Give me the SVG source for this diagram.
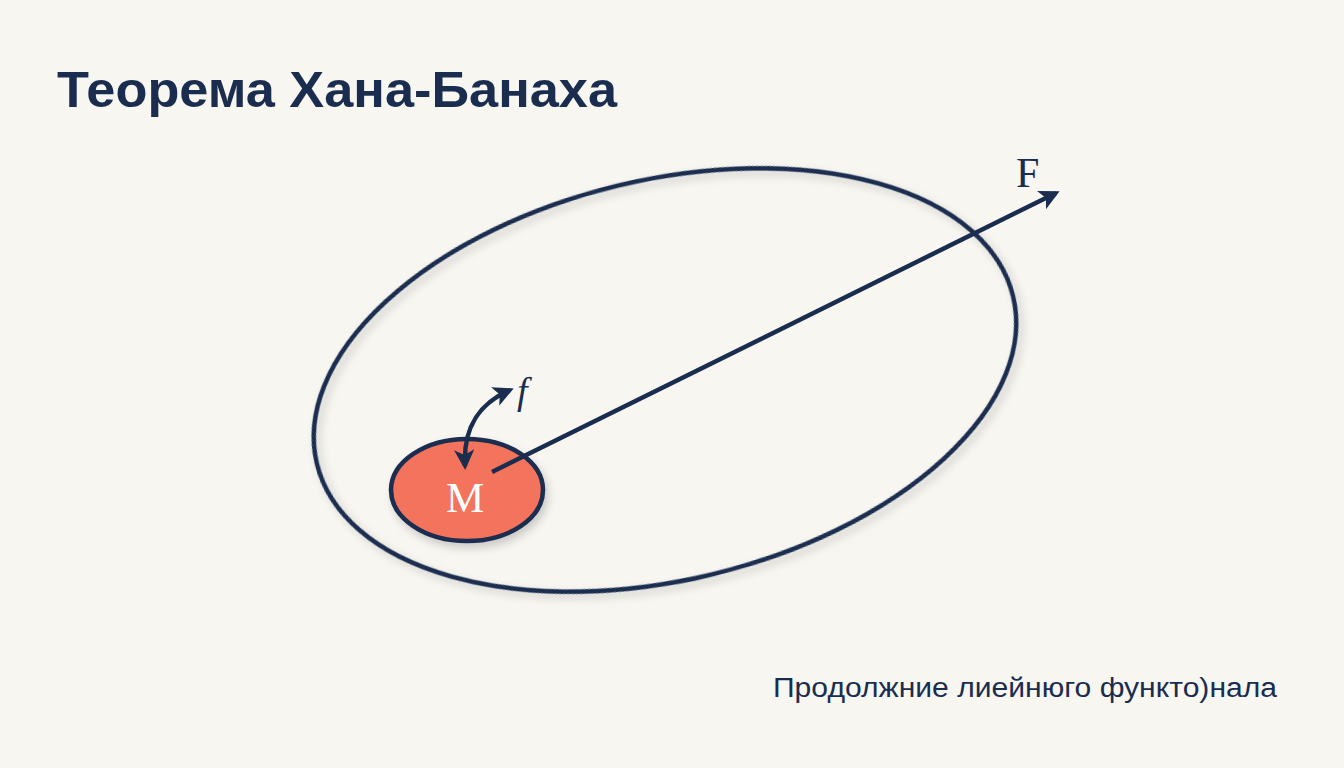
<svg xmlns="http://www.w3.org/2000/svg" width="1344" height="768" viewBox="0 0 1344 768">
  <style>
    .stroke { fill: none; stroke: #1B2D4F; stroke-width: 4.5; }
    .serif { font-family: "Liberation Serif", "DejaVu Serif", serif; fill: #1B2D4F; }
    .sans { font-family: "Liberation Sans", Arial, sans-serif; fill: #1B2D4F; }
  </style>
  <defs>
    <marker id="arr" viewBox="0 0 10 10" refX="8" refY="5" markerWidth="4.5" markerHeight="4.5" orient="auto-start-reverse" markerUnits="strokeWidth">
      <path d="M0,0 L10,5 L0,10 L2.5,5 Z" fill="#1B2D4F"/>
    </marker>
    <filter id="shadow" x="-20%" y="-20%" width="140%" height="140%">
      <feDropShadow dx="3" dy="5" stdDeviation="4" flood-color="#000" flood-opacity="0.18"/>
    </filter>
  </defs>
  <rect width="1344" height="768" fill="#F7F6F1"/>
  <text class="sans" x="57" y="107" font-size="50" font-weight="bold" textLength="560" lengthAdjust="spacingAndGlyphs">Теорема Хана-Банаха</text>

  <g id="space-F">
    <ellipse class="stroke" cx="665" cy="380" rx="358" ry="200" transform="rotate(-13.5 665 380)" filter="url(#shadow)"/>
    <text class="serif" x="1016" y="187" font-size="42">F</text>
  </g>

  <g id="subspace-M">
    <ellipse cx="467" cy="490" rx="76" ry="51" fill="#F4735C" stroke="#1B2D4F" stroke-width="4.5" filter="url(#shadow)"/>
    <text class="serif" x="465" y="512" font-size="43" text-anchor="middle" style="fill:#FFFFFF">M</text>
  </g>

  <g id="connectors">
    <line class="stroke" x1="492" y1="472" x2="1056" y2="193" marker-end="url(#arr)"/>
    <path class="stroke" d="M465,466 C463,428 478,404 510,390" marker-start="url(#arr)" marker-end="url(#arr)"/>
    <text class="serif" x="517" y="404" font-size="38" font-style="italic">f</text>
  </g>

  <text class="sans" x="773" y="697" font-size="27" textLength="504" lengthAdjust="spacingAndGlyphs">Продолжние лиейнюго функто)нала</text>
</svg>
